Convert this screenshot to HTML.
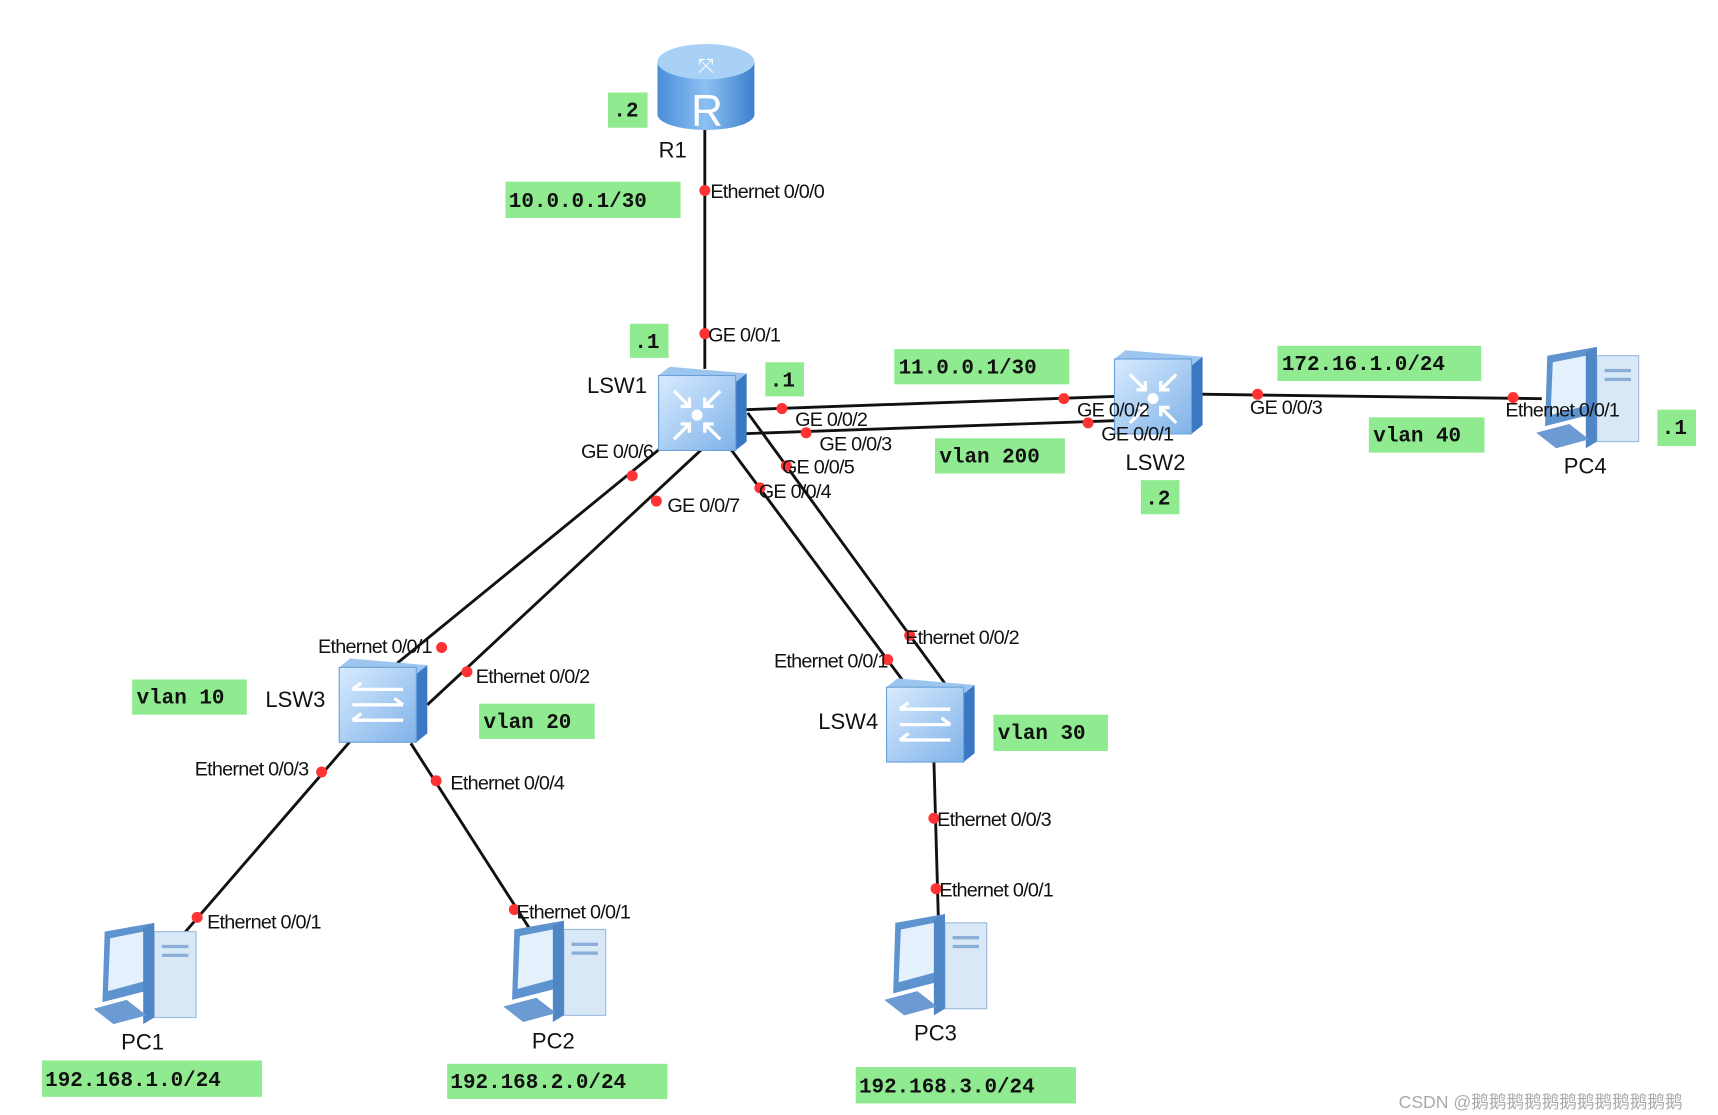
<!DOCTYPE html>
<html><head><meta charset="utf-8"><style>
html,body{margin:0;padding:0;background:#fff;}
svg{display:block;}
.l{font-family:"Liberation Sans",sans-serif;font-size:18px;fill:#111;letter-spacing:-0.7px;}
.n{font-family:"Liberation Sans",sans-serif;font-size:20px;fill:#111;}
.g{fill:#90ea90;}
.m{font-family:"Liberation Mono",monospace;font-size:19px;fill:#111;font-weight:bold;}
.ln{stroke:#111;stroke-width:2.6;fill:none;}
.d{fill:#f33;}
.ar{stroke:#fff;stroke-width:3;fill:none;}
</style></head><body>
<svg width="1718" height="1115" viewBox="0 0 1560 1012.5" xmlns="http://www.w3.org/2000/svg">
<defs>
<linearGradient id="fr" x1="0" y1="0" x2="1" y2="1"><stop offset="0" stop-color="#d8ebff"/><stop offset="1" stop-color="#7fb2e8"/></linearGradient>
<linearGradient id="cy" x1="0" y1="0" x2="1" y2="0"><stop offset="0" stop-color="#4a8fd8"/><stop offset="0.5" stop-color="#8cc0f2"/><stop offset="1" stop-color="#3d7fcc"/></linearGradient>
<g id="sw">
<polygon points="0,8 10,0 80,6 70,14" fill="#9cc6ef"/>
<polygon points="70,14 80,6 80,68 70,76" fill="#3b78c4"/>
<rect x="0" y="8" width="70" height="68" fill="url(#fr)" stroke="#6a9fd8"/>
</g>
<g id="core">
<path class="ar" d="M14,22 L28,36 M14,66 L28,52 M56,22 L42,36 M56,66 L42,52 M20,36 L28,36 L28,28 M20,52 L28,52 L28,60 M50,36 L42,36 L42,28 M50,52 L42,52 L42,60"/>
<circle cx="35" cy="44" r="5" fill="#fff"/>
</g>
<g id="acc">
<path class="ar" d="M12,28 L58,28 M12,28 L20,22 M12,42 L58,42 M58,42 L50,36 M12,56 L58,56 M12,56 L20,50"/>
</g>
<g id="pc">
<polygon points="10,8 55,0 55,60 8,72" fill="#5d93cf"/>
<polygon points="15,14 50,7 50,52 13,62" fill="#e4f0fb"/>
<rect x="55" y="8" width="38" height="78" fill="#d8e8f7" stroke="#9ab9dc"/>
<polygon points="45,5 55,0 55,86 45,92" fill="#4f86c6"/>
<rect x="62" y="20" width="24" height="3" fill="#8aaed6"/>
<rect x="62" y="28" width="24" height="3" fill="#8aaed6"/>
<polygon points="0,78 30,70 48,84 18,92" fill="#6b9bd2"/>
</g>
</defs>

<line class="ln" x1="640" y1="118" x2="640" y2="335"/>
<line class="ln" x1="677" y1="372" x2="1012" y2="360"/>
<line class="ln" x1="670" y1="394" x2="1012" y2="382"/>
<line class="ln" x1="1090" y1="358" x2="1400" y2="362"/>
<line class="ln" x1="606" y1="402" x2="345" y2="615"/>
<line class="ln" x1="648" y1="398" x2="388" y2="640"/>
<line class="ln" x1="679" y1="375" x2="859" y2="622"/>
<line class="ln" x1="654" y1="395" x2="825" y2="625"/>
<line class="ln" x1="325" y1="665" x2="165" y2="850"/>
<line class="ln" x1="373" y1="675" x2="482" y2="845"/>
<line class="ln" x1="848" y1="690" x2="852" y2="832"/>

<rect x="597" y="56" width="88" height="48" fill="url(#cy)"/>
<ellipse cx="641" cy="104" rx="44" ry="14" fill="url(#cy)"/>
<ellipse cx="641" cy="56" rx="44" ry="16" fill="#a9d0f5"/>
<text x="641" y="66" text-anchor="middle" font-family="Liberation Sans" font-size="18" fill="#fff">⤧</text>
<text x="642" y="114" text-anchor="middle" font-family="Liberation Sans" font-size="40" fill="#fff">R</text>

<use href="#sw" x="598" y="333"/>
<use href="#core" x="598" y="333"/>
<use href="#sw" x="1012" y="318"/>
<use href="#core" x="1012" y="318"/>
<use href="#sw" x="308" y="598"/>
<use href="#acc" x="308" y="598"/>
<use href="#sw" x="805" y="616"/>
<use href="#acc" x="805" y="616"/>

<use href="#pc" x="1395" y="315"/>
<use href="#pc" x="85" y="838"/>
<use href="#pc" x="457" y="836"/>
<use href="#pc" x="803" y="830"/>

<g class="d">
<circle cx="640" cy="173" r="5"/><circle cx="640" cy="303" r="5"/>
<circle cx="710" cy="371" r="5"/><circle cx="966" cy="362" r="5"/>
<circle cx="732" cy="393" r="5"/><circle cx="988" cy="384" r="5"/>
<circle cx="1142" cy="358" r="5"/><circle cx="1374" cy="361" r="5"/>
<circle cx="574" cy="432" r="5"/><circle cx="596" cy="455" r="5"/>
<circle cx="714" cy="423" r="5"/><circle cx="690" cy="443" r="5"/>
<circle cx="401" cy="588" r="5"/><circle cx="424" cy="610" r="5"/>
<circle cx="826" cy="577" r="5"/><circle cx="806" cy="599" r="5"/>
<circle cx="292" cy="701" r="5"/><circle cx="179" cy="833" r="5"/>
<circle cx="396" cy="709" r="5"/><circle cx="467" cy="826" r="5"/>
<circle cx="848" cy="743" r="5"/><circle cx="850" cy="807" r="5"/>
</g>

<g class="l">
<text x="645" y="180">Ethernet 0/0/0</text>
<text x="643" y="310">GE 0/0/1</text>
<text x="722" y="387">GE 0/0/2</text>
<text x="744" y="409">GE 0/0/3</text>
<text x="978" y="378">GE 0/0/2</text>
<text x="1000" y="400">GE 0/0/1</text>
<text x="1135" y="376">GE 0/0/3</text>
<text x="1367" y="378">Ethernet 0/0/1</text>
<text x="593" y="416" text-anchor="end">GE 0/0/6</text>
<text x="606" y="465">GE 0/0/7</text>
<text x="710" y="430">GE 0/0/5</text>
<text x="689" y="452">GE 0/0/4</text>
<text x="392" y="593" text-anchor="end">Ethernet 0/0/1</text>
<text x="432" y="620">Ethernet 0/0/2</text>
<text x="822" y="585">Ethernet 0/0/2</text>
<text x="806" y="606" text-anchor="end">Ethernet 0/0/1</text>
<text x="280" y="704" text-anchor="end">Ethernet 0/0/3</text>
<text x="188" y="843">Ethernet 0/0/1</text>
<text x="409" y="717">Ethernet 0/0/4</text>
<text x="469" y="834">Ethernet 0/0/1</text>
<text x="851" y="750">Ethernet 0/0/3</text>
<text x="853" y="814">Ethernet 0/0/1</text>
</g>

<g class="n">
<text x="598" y="143">R1</text>
<text x="533" y="357">LSW1</text>
<text x="1022" y="427">LSW2</text>
<text x="241" y="642">LSW3</text>
<text x="743" y="662">LSW4</text>
<text x="1420" y="430">PC4</text>
<text x="110" y="953">PC1</text>
<text x="483" y="952">PC2</text>
<text x="830" y="945">PC3</text>
</g>

<g>
<rect class="g" x="552" y="84" width="36" height="32"/><text class="m" x="557" y="106">.2</text>
<rect class="g" x="459" y="165" width="159" height="33"/><text class="m" x="462" y="188">10.0.0.1/30</text>
<rect class="g" x="572" y="294" width="35" height="31"/><text class="m" x="576" y="316">.1</text>
<rect class="g" x="695" y="329" width="35" height="31"/><text class="m" x="699" y="351">.1</text>
<rect class="g" x="812" y="317" width="159" height="32"/><text class="m" x="816" y="339">11.0.0.1/30</text>
<rect class="g" x="849" y="398" width="118" height="32"/><text class="m" x="853" y="420">vlan 200</text>
<rect class="g" x="1036" y="436" width="35" height="31"/><text class="m" x="1040" y="458">.2</text>
<rect class="g" x="1160" y="314" width="185" height="32"/><text class="m" x="1164" y="336">172.16.1.0/24</text>
<rect class="g" x="1243" y="379" width="105" height="32"/><text class="m" x="1247" y="401">vlan 40</text>
<rect class="g" x="1505" y="372" width="35" height="33"/><text class="m" x="1509" y="394">.1</text>
<rect class="g" x="120" y="617" width="104" height="32"/><text class="m" x="124" y="639">vlan 10</text>
<rect class="g" x="435" y="639" width="105" height="32"/><text class="m" x="439" y="661">vlan 20</text>
<rect class="g" x="902" y="649" width="104" height="33"/><text class="m" x="906" y="671">vlan 30</text>
<rect class="g" x="38" y="963" width="200" height="33"/><text class="m" x="41" y="986">192.168.1.0/24</text>
<rect class="g" x="406" y="966" width="200" height="32"/><text class="m" x="409" y="988">192.168.2.0/24</text>
<rect class="g" x="777" y="969" width="200" height="33"/><text class="m" x="780" y="992">192.168.3.0/24</text>
</g>

<text x="1270" y="1006" font-family="Liberation Sans, 'Noto Sans CJK SC', sans-serif" font-size="16" fill="#aaa">CSDN @鹅鹅鹅鹅鹅鹅鹅鹅鹅鹅鹅鹅</text>
</svg>
</body></html>
